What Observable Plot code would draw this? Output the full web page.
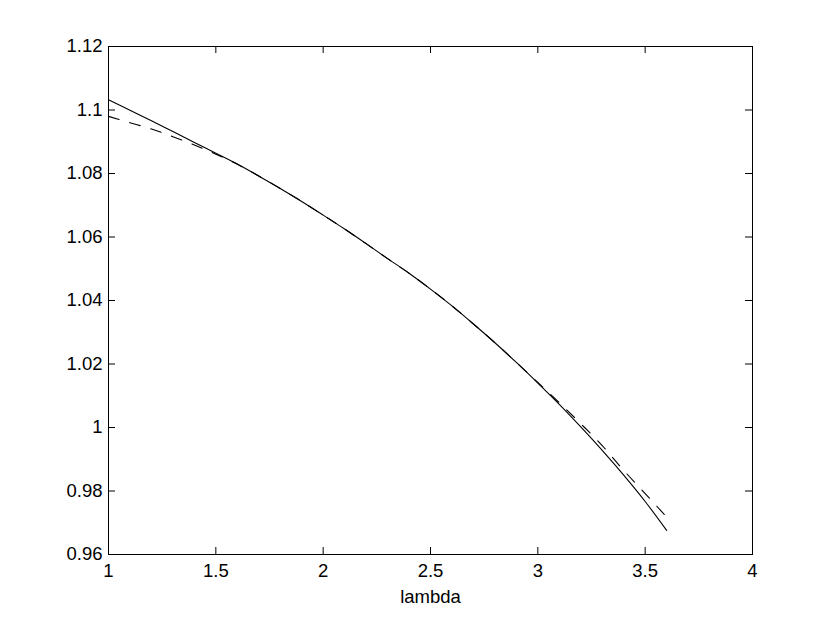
<!DOCTYPE html>
<html>
<head>
<meta charset="utf-8">
<script src="https://cdn.jsdelivr.net/npm/d3@7"></script>
<script src="https://cdn.jsdelivr.net/npm/@observablehq/plot@0.6"></script>
<style>
  html, body { margin: 0; padding: 0; background: #fff; }
</style>
</head>
<body>
<div id="chart"></div>
<script>
// lambda values
const lambda = [1.0, 1.1, 1.2, 1.3, 1.4, 1.5, 1.6, 1.7, 1.8, 1.9, 2.0, 2.1, 2.2, 2.3, 2.4, 2.5, 2.6, 2.7, 2.8, 2.9, 3.0, 3.1, 3.2, 3.3, 3.4, 3.5, 3.6];
// solid curve
const solidValues = [1.1032, 1.0999, 1.0966, 1.0932, 1.0898, 1.0864, 1.0830, 1.0792, 1.0753, 1.0712, 1.0669, 1.0625, 1.0579, 1.0532, 1.0486, 1.0436, 1.0383, 1.0326, 1.0267, 1.0205, 1.0140, 1.0073, 1.0002, 0.9928, 0.9850, 0.9767, 0.9676];
// dashed curve
const dashedValues = [1.0980, 1.0960, 1.0940, 1.0916, 1.0890, 1.0861, 1.0829, 1.0792, 1.0753, 1.0712, 1.0669, 1.0625, 1.0579, 1.0532, 1.0486, 1.0436, 1.0383, 1.0326, 1.0267, 1.0205, 1.0142, 1.0078, 1.0012, 0.9943, 0.9865, 0.9792, 0.9718];
// axis ticks
const xTicks = [1, 1.5, 2, 2.5, 3, 3.5, 4];
const yTicks = [0.96, 0.98, 1.00, 1.02, 1.04, 1.06, 1.08, 1.10, 1.12];

const solid = lambda.map((x, i) => ({x, y: solidValues[i]}));
const dashed = lambda.map((x, i) => ({x, y: dashedValues[i]}));

const W = 830, H = 624;
const mL = 108, mR = 78, mT = 46, mB = 70;
const innerW = W - mL - mR, innerH = H - mT - mB;
const tickLen = 7;
const fmt = d => String(+d.toFixed(2));

const chart = Plot.plot({
  width: W,
  height: H,
  marginLeft: mL,
  marginRight: mR,
  marginTop: mT,
  marginBottom: mB,
  style: {fontFamily: "'Liberation Sans', Arial, Helvetica, sans-serif", fontSize: "18.5px", color: "#000", background: "#fff"},
  x: {domain: [1, 4]},
  y: {domain: [0.96, 1.12]},
  marks: [
    Plot.frame({stroke: "#000", strokeWidth: 1}),
    Plot.axisX(xTicks, {anchor: "bottom", tickSize: 0, tickPadding: 9, tickFormat: fmt, label: "lambda", labelAnchor: "center", labelArrow: "none", labelOffset: 48}),
    Plot.axisY(yTicks, {anchor: "left", tickSize: 0, tickPadding: 6, tickFormat: fmt, label: null}),
    Plot.tickX(xTicks, {x: d => d, insetTop: innerH - tickLen, stroke: "#000"}),
    Plot.tickX(xTicks, {x: d => d, insetBottom: innerH - tickLen, stroke: "#000"}),
    Plot.tickY(yTicks, {y: d => d, insetRight: innerW - tickLen, stroke: "#000"}),
    Plot.tickY(yTicks, {y: d => d, insetLeft: innerW - tickLen, stroke: "#000"}),
    Plot.line(dashed, {x: "x", y: "y", stroke: "#000", strokeWidth: 1.1, strokeDasharray: "11,11", curve: "monotone-x"}),
    Plot.line(solid, {x: "x", y: "y", stroke: "#000", strokeWidth: 1.1, curve: "monotone-x"})
  ]
});
document.getElementById("chart").appendChild(chart);
</script>
</body>
</html>
